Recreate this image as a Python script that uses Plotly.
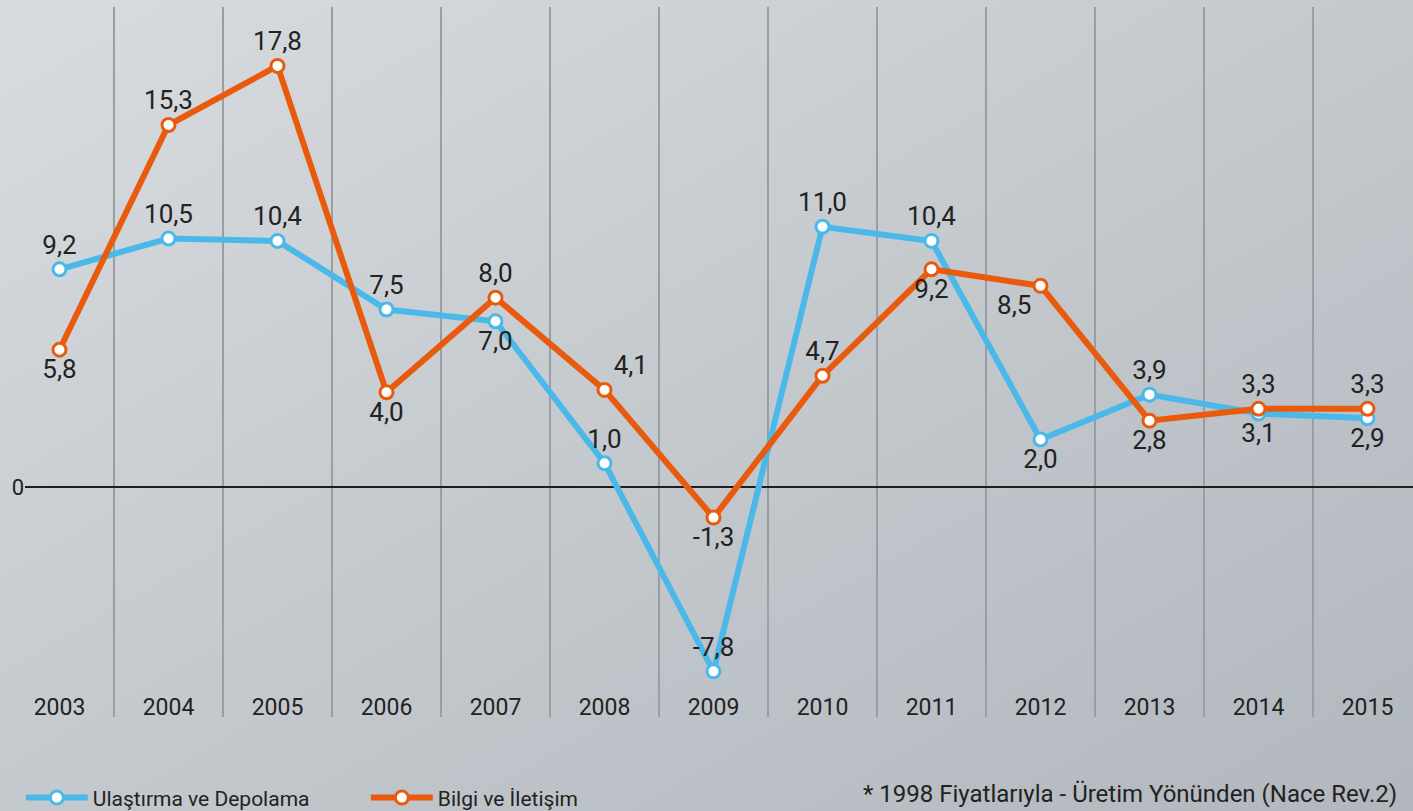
import base64
import plotly.graph_objects as go

years = ["2003", "2004", "2005", "2006", "2007", "2008", "2009",
         "2010", "2011", "2012", "2013", "2014", "2015"]
ulastirma = [9.2, 10.5, 10.4, 7.5, 7.0, 1.0, -7.8, 11.0, 10.4, 2.0, 3.9, 3.1, 2.9]
bilgi = [5.8, 15.3, 17.8, 4.0, 8.0, 4.1, -1.3, 4.7, 9.2, 8.5, 2.8, 3.3, 3.3]

series_names = ["Ulaştırma ve Depolama", "Bilgi ve İletişim"]
footnote = "* 1998 Fiyatlarıyla - Üretim Yönünden (Nace Rev.2)"

# label placement styles
pos_blue = ["top center", "top center", "top center", "top center", "bottom center",
            "top center", "top center", "top center", "top center", "bottom center",
            "top center", "bottom center", "bottom center"]
pos_orange = ["bottom center", "top center", "top center", "bottom center", "top center",
              "top right", "bottom center", "top center", "bottom center", "bottom left",
              "bottom center", "top center", "top center"]

BLUE = "#4ab9e9"
ORANGE = "#ea5a0c"
W, H = 1413, 811
L, R, T, B = 25, 0, 7, 94
pw, ph = W - L - R, H - T - B


def fmt(v):
    return f"{v:.1f}".replace(".", ",")


svg = f'''<svg xmlns="http://www.w3.org/2000/svg" width="{W}" height="{H}" viewBox="0 0 {W} {H}" preserveAspectRatio="none">
<defs><linearGradient id="g" x1="0" y1="0" x2="1" y2="1">
<stop offset="0" stop-color="#d8dcdf"/><stop offset="0.5" stop-color="#c4c9ce"/><stop offset="1" stop-color="#b1b7bd"/>
</linearGradient></defs><rect width="{W}" height="{H}" fill="url(#g)"/></svg>'''
bg_src = "data:image/svg+xml;base64," + base64.b64encode(svg.encode()).decode()

fig = go.Figure()
for name, vals, color, pos in [(series_names[0], ulastirma, BLUE, pos_blue),
                               (series_names[1], bilgi, ORANGE, pos_orange)]:
    fig.add_trace(go.Scatter(
        x=years, y=vals, name=name, mode="lines+markers+text",
        text=[fmt(v) for v in vals], textposition=pos,
        textfont=dict(family="Roboto", size=26, color="#222222"),
        line=dict(color=color, width=6),
        marker=dict(size=13, color="white", line=dict(color=color, width=3)),
        cliponaxis=False,
    ))

x0 = -34.5 / 109
fig.update_layout(
    width=W, height=H,
    margin=dict(l=L, r=R, t=T, b=B, autoexpand=False),
    paper_bgcolor="rgba(0,0,0,0)", plot_bgcolor="rgba(0,0,0,0)",
    font=dict(family="Roboto", color="#222222"),
    xaxis=dict(type="category", range=[x0, x0 + pw / 109], tickson="boundaries",
               showgrid=True, gridcolor="#9a9ea3", gridwidth=1.5,
               ticks="", ticklabelposition="inside", ticklabelstandoff=-6,
               showline=False, zeroline=False,
               tickfont=dict(size=23, color="#222222")),
    yaxis=dict(range=[-9.73, 20.29], tickvals=[0], ticktext=["0"], showgrid=False,
               zeroline=True, zerolinecolor="#1e1e1e", zerolinewidth=2,
               tickfont=dict(size=22, color="#222222"), ticks=""),
    showlegend=True,
    legend=dict(orientation="h", x=-0.003, xanchor="left", y=-0.114, yanchor="middle",
                font=dict(size=21, color="#222222"), bgcolor="rgba(0,0,0,0)",
                itemwidth=62, entrywidth=268, entrywidthmode="pixels"),
    images=[dict(source=bg_src, xref="paper", yref="paper", x=-L / pw, y=1 + T / ph,
                 sizex=W / pw, sizey=H / ph, sizing="stretch", xanchor="left",
                 yanchor="top", layer="below")],
    annotations=[dict(text=footnote, xref="paper", yref="paper", x=(1399 - L) / pw,
                      y=-0.108, xanchor="right", yanchor="middle", showarrow=False,
                      font=dict(size=24, color="#222222"))],
)

fig.write_html("out.html", config={"displayModeBar": False},
               post_script="document.body.style.margin='0';document.body.style.overflow='hidden';")
